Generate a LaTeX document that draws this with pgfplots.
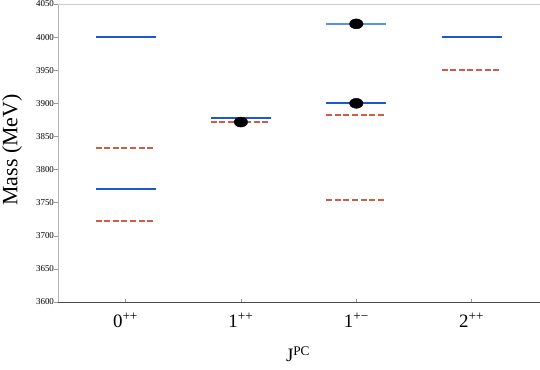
\documentclass[border=0pt]{standalone}
\usepackage{fontspec}
\setmainfont{Liberation Serif}
\usepackage{pgfplots}
\pgfplotsset{compat=1.18}

\definecolor{levblue}{RGB}{28,88,210}
\definecolor{levlight}{RGB}{85,145,238}
\definecolor{levred}{RGB}{206,92,72}

\pgfplotsset{
  bluelev/.style={draw=levblue, line width=2bp},
  redlev/.style={draw=levred, line width=2bp, dash pattern=on 6bp off 2.6bp},
}

\begin{document}
\begin{tikzpicture}
\begin{axis}[
  scale only axis,
  width=482bp, height=298bp,
  xmin=-0.585, xmax=3.592,
  ymin=3600, ymax=4050,
  axis x line*=bottom, axis y line*=left,
  x axis line style={draw=black!70, line width=0.8bp},
  y axis line style={draw=black!30, line width=0.6bp},
  xtick={0,1,2,3},
  xticklabels={0\textsuperscript{++}, 1\textsuperscript{++}, 1\textsuperscript{+−}, 2\textsuperscript{++}},
  ytick={3600,3650,3700,3750,3800,3850,3900,3950,4000,4050},
  tick align=inside,
  major tick length=3.5bp,
  tick style={draw=black!40, line width=0.5bp},
  every y tick/.append style={xshift=-3.5bp},
  /pgf/number format/assume math mode=true,
  /pgf/number format/1000 sep={},
  yticklabel style={font=\fontsize{9}{11}\selectfont, anchor=east, xshift=-0.5bp},
  xticklabel style={font=\fontsize{19}{22}\selectfont, anchor=base, yshift=-25bp},
  every axis y label/.style={at={(axis description cs:-0.0954,0.51)}, anchor=center, rotate=90},
  every axis x label/.style={at={(axis description cs:0.498,-0.201)}, anchor=base},
  ylabel={\fontsize{22}{26}\selectfont Mass (MeV)},
  xlabel={\fontsize{19}{22}\selectfont J\textsuperscript{PC}},
  clip=false,
]
\draw[black!20, line width=0.6bp] (rel axis cs:0,1) -- (rel axis cs:1,1);
% model A (solid blue)
\addplot[bluelev] coordinates {(-0.26,4000) (0.26,4000)};
\addplot[bluelev] coordinates {(-0.26,3770) (0.26,3770)};
\addplot[bluelev] coordinates {(0.74,3878) (1.26,3878)};
\addplot[bluelev] coordinates {(1.74,3900) (2.26,3900)};
\addplot[bluelev] coordinates {(2.74,4000) (3.26,4000)};
\addplot[draw=levlight, line width=2bp] coordinates {(1.74,4020) (2.26,4020)};
% model B (dashed red)
\addplot[redlev] coordinates {(-0.26,3832) (0.26,3832)};
\addplot[redlev] coordinates {(-0.26,3723) (0.26,3723)};
\addplot[redlev] coordinates {(0.74,3871.5) (1.26,3871.5)};
\addplot[redlev] coordinates {(1.74,3882) (2.26,3882)};
\addplot[redlev] coordinates {(1.74,3754) (2.26,3754)};
\addplot[redlev] coordinates {(2.74,3951) (3.26,3951)};
% experiment
\addplot[only marks, mark=*, mark size=5bp, mark options={xscale=1.35, fill=black, draw=black}] coordinates {
  (1,3871.7) (2,3900) (2,4020)
};
\end{axis}
\pgfresetboundingbox
\path (-58bp,-68bp) rectangle (482bp,302bp);
\end{tikzpicture}
\end{document}
